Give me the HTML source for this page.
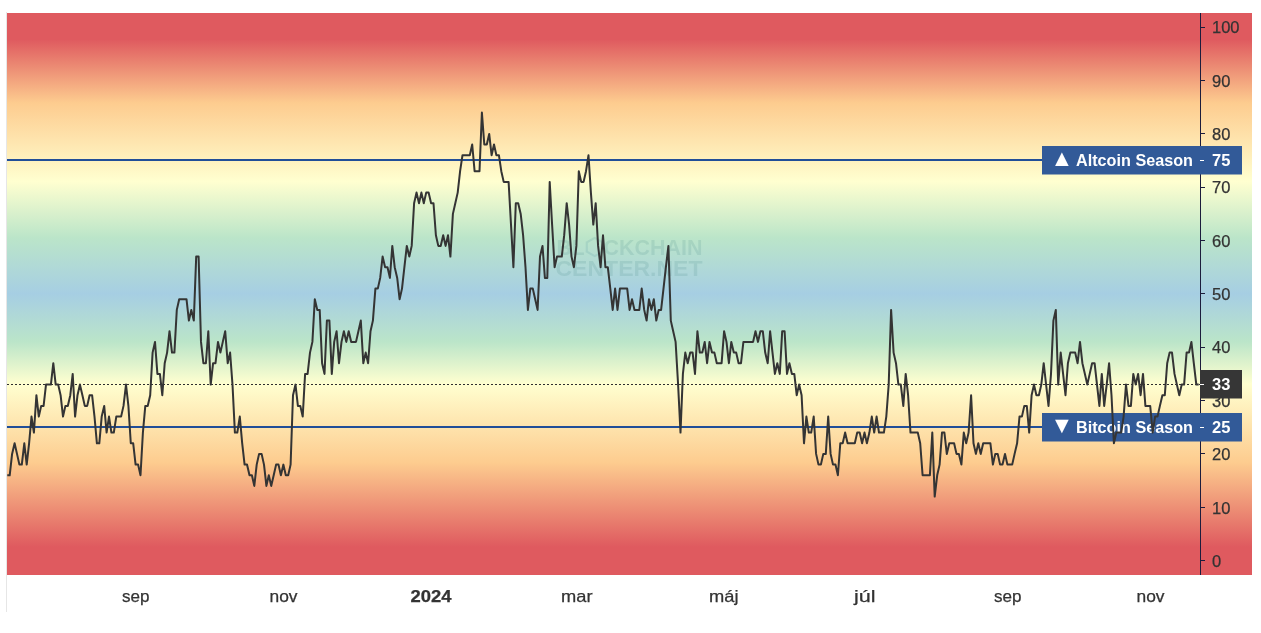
<!DOCTYPE html>
<html lang="hu">
<head>
<meta charset="utf-8">
<title>Altcoin Season Index</title>
<style>
html,body{margin:0;padding:0;background:#fff;}
body{width:1261px;height:633px;overflow:hidden;font-family:"Liberation Sans", "DejaVu Sans", sans-serif;}
svg{display:block;}
text{font-family:"Liberation Sans", "DejaVu Sans", sans-serif;}
.ax{font-size:16.5px;fill:#333;stroke:#333;stroke-width:.25px;}
.b{font-weight:bold;}
.lbl{font-size:16.5px;font-weight:bold;fill:#fff;}
.wm{font-size:21.3px;font-weight:bold;fill:#3f7f7f;fill-opacity:.15;}
</style>
</head>
<body>
<svg width="1261" height="633" viewBox="0 0 1261 633">
<defs>
<linearGradient id="bg" x1="0" y1="0" x2="0" y2="1">
<stop offset="0" stop-color="#df5a5f"/>
<stop offset="0.047" stop-color="#df5a5f"/>
<stop offset="0.16" stop-color="#fdcc8f"/>
<stop offset="0.30" stop-color="#ffffd0"/>
<stop offset="0.40" stop-color="#bbe5c9"/>
<stop offset="0.50" stop-color="#a6cee3"/>
<stop offset="0.585" stop-color="#bbe5c9"/>
<stop offset="0.66" stop-color="#ffffd0"/>
<stop offset="0.80" stop-color="#fdcc8f"/>
<stop offset="0.95" stop-color="#df5a5f"/>
<stop offset="1" stop-color="#df5a5f"/>
</linearGradient>
<clipPath id="pane"><rect x="7" y="13" width="1193" height="562"/></clipPath>
</defs>
<rect x="0" y="0" width="1261" height="633" fill="#fff"/>
<rect x="7" y="13" width="1245" height="562" fill="url(#bg)"/>
<line x1="6.5" y1="12" x2="6.5" y2="612" stroke="#e6e6e6" stroke-width="1"/>
<!-- watermark -->
<g class="wm">
<text x="556.5" y="254.8" textLength="28" lengthAdjust="spacingAndGlyphs">BL</text>
<polygon points="594.7,237.9 602.6,242.4 602.6,251.6 594.7,256.1 586.8,251.6 586.8,242.4" fill="none" stroke="#4a8f9a" stroke-opacity=".16" stroke-width="2.2"/>
<text x="603.5" y="254.8" textLength="99" lengthAdjust="spacingAndGlyphs">CKCHAIN</text>
<text x="555.5" y="275.6" textLength="147" lengthAdjust="spacingAndGlyphs">CENTER.NET</text>
</g>
<!-- price lines -->
<rect x="7" y="159" width="1193" height="2" fill="#214e98"/>
<rect x="7" y="426" width="1193" height="2" fill="#214e98"/>
<line x1="7" y1="384.5" x2="1200" y2="384.5" stroke="#2e2e2e" stroke-width="1" stroke-dasharray="2 2"/>
<!-- price line titles -->
<rect x="1042" y="146" width="158" height="28.5" fill="#325a98"/>
<rect x="1042" y="413" width="158" height="28.5" fill="#325a98"/>
<text x="1050.6" y="166.2" class="lbl" style="font-size:23px">▲</text>
<text x="1076" y="166.3" class="lbl" textLength="117" lengthAdjust="spacingAndGlyphs">Altcoin Season</text>
<text x="1050.6" y="433.2" class="lbl" style="font-size:23px">▼</text>
<text x="1076" y="433.3" class="lbl" textLength="117" lengthAdjust="spacingAndGlyphs">Bitcoin Season</text>
<!-- series -->
<polyline points="7.3,475.3 9.7,475.3 12.1,453.9 14.6,443.3 17.0,453.9 19.4,464.6 21.8,464.6 24.3,443.3 26.7,464.6 29.1,443.3 31.5,416.6 33.9,432.6 36.4,395.2 38.8,416.6 41.2,405.9 43.6,405.9 46.0,384.6 48.5,384.6 50.9,384.6 53.3,363.2 55.7,384.6 58.2,384.6 60.6,395.2 63.0,416.6 65.4,405.9 67.8,405.9 70.3,395.2 72.7,373.9 75.1,416.6 77.5,395.2 79.9,384.6 82.4,395.2 84.8,405.9 87.2,405.9 89.6,395.2 92.1,395.2 94.5,416.6 96.9,443.3 99.3,443.3 101.7,416.6 104.2,405.9 106.6,432.6 109.0,416.6 111.4,432.6 113.8,432.6 116.3,416.6 118.7,416.6 121.1,416.6 123.5,405.9 126.0,384.6 128.4,405.9 130.8,443.3 133.2,443.3 135.6,464.6 138.1,464.6 140.5,475.3 142.9,432.6 145.3,405.9 147.7,405.9 150.2,395.2 152.6,352.6 155.0,341.9 157.4,373.9 159.9,373.9 162.3,395.2 164.7,363.2 167.1,352.6 169.5,331.2 172.0,352.6 174.4,352.6 176.8,309.9 179.2,299.2 181.6,299.2 184.1,299.2 186.5,299.2 188.9,320.6 191.3,309.9 193.8,320.6 196.2,256.6 198.6,256.6 201.0,341.9 203.4,363.2 205.9,363.2 208.3,331.2 210.7,384.6 213.1,363.2 215.5,363.2 218.0,341.9 220.4,352.6 222.8,341.9 225.2,331.2 227.7,363.2 230.1,352.6 232.5,384.6 234.9,432.6 237.3,432.6 239.8,416.6 242.2,443.3 244.6,464.6 247.0,464.6 249.5,475.3 251.9,475.3 254.3,485.9 256.7,464.6 259.1,453.9 261.6,453.9 264.0,464.6 266.4,485.9 268.8,475.3 271.2,485.9 273.7,475.3 276.1,464.6 278.5,464.6 280.9,475.3 283.4,464.6 285.8,475.3 288.2,475.3 290.6,464.6 293.0,395.2 295.5,384.6 297.9,405.9 300.3,405.9 302.7,416.6 305.1,373.9 307.6,373.9 310.0,352.6 312.4,341.9 314.8,299.2 317.3,309.9 319.7,309.9 322.1,363.2 324.5,373.9 326.9,320.6 329.4,320.6 331.8,373.9 334.2,341.9 336.6,331.2 339.0,363.2 341.5,341.9 343.9,331.2 346.3,341.9 348.7,331.2 351.2,341.9 353.6,341.9 356.0,341.9 358.4,331.2 360.8,320.6 363.3,363.2 365.7,352.6 368.1,363.2 370.5,331.2 372.9,320.6 375.4,288.6 377.8,288.6 380.2,277.9 382.6,256.6 385.1,267.2 387.5,267.2 389.9,277.9 392.3,245.9 394.7,267.2 397.2,277.9 399.6,299.2 402.0,288.6 404.4,267.2 406.8,245.9 409.3,256.6 411.7,245.9 414.1,203.2 416.5,192.6 419.0,203.2 421.4,192.6 423.8,203.2 426.2,192.6 428.6,192.6 431.1,203.2 433.5,203.2 435.9,235.2 438.3,245.9 440.7,245.9 443.2,235.2 445.6,245.9 448.0,235.2 450.4,256.6 452.9,213.9 455.3,203.2 457.7,192.6 460.1,171.2 462.5,155.2 465.0,155.2 467.4,155.2 469.8,155.2 472.2,144.5 474.6,171.2 477.1,171.2 479.5,171.2 481.9,112.5 484.3,144.5 486.8,144.5 489.2,133.9 491.6,155.2 494.0,144.5 496.4,155.2 498.9,155.2 501.3,171.2 503.7,181.9 506.1,181.9 508.6,181.9 511.0,224.6 513.4,267.2 515.8,203.2 518.2,203.2 520.7,213.9 523.1,235.2 525.5,267.2 527.9,309.9 530.3,288.6 532.8,288.6 535.2,299.2 537.6,309.9 540.0,256.6 542.5,245.9 544.9,277.9 547.3,277.9 549.7,181.9 552.1,224.6 554.6,267.2 557.0,256.6 559.4,256.6 561.8,256.6 564.2,235.2 566.7,203.2 569.1,224.6 571.5,256.6 573.9,267.2 576.4,245.9 578.8,171.2 581.2,181.9 583.6,181.9 586.0,171.2 588.5,155.2 590.9,192.6 593.3,224.6 595.7,203.2 598.1,245.9 600.6,267.2 603.0,235.2 605.4,267.2 607.8,267.2 610.3,288.6 612.7,309.9 615.1,288.6 617.5,309.9 619.9,288.6 622.4,288.6 624.8,288.6 627.2,288.6 629.6,309.9 632.0,299.2 634.5,309.9 636.9,309.9 639.3,309.9 641.7,288.6 644.2,309.9 646.6,320.6 649.0,299.2 651.4,309.9 653.8,299.2 656.3,320.6 658.7,309.9 661.1,309.9 663.5,288.6 665.9,267.2 668.4,245.9 670.8,320.6 673.2,331.2 675.6,341.9 678.1,384.6 680.5,432.6 682.9,373.9 685.3,352.6 687.7,363.2 690.2,352.6 692.6,352.6 695.0,373.9 697.4,331.2 699.8,352.6 702.3,352.6 704.7,341.9 707.1,363.2 709.5,341.9 712.0,352.6 714.4,352.6 716.8,363.2 719.2,363.2 721.6,363.2 724.1,331.2 726.5,341.9 728.9,363.2 731.3,341.9 733.8,352.6 736.2,352.6 738.6,363.2 741.0,363.2 743.4,341.9 745.9,341.9 748.3,341.9 750.7,341.9 753.1,341.9 755.5,331.2 758.0,341.9 760.4,331.2 762.8,331.2 765.2,352.6 767.7,363.2 770.1,331.2 772.5,352.6 774.9,373.9 777.3,363.2 779.8,373.9 782.2,331.2 784.6,331.2 787.0,373.9 789.4,363.2 791.9,373.9 794.3,373.9 796.7,395.2 799.1,384.6 801.6,395.2 804.0,443.3 806.4,416.6 808.8,432.6 811.2,432.6 813.7,416.6 816.1,453.9 818.5,464.6 820.9,464.6 823.3,453.9 825.8,453.9 828.2,416.6 830.6,453.9 833.0,464.6 835.5,464.6 837.9,475.3 840.3,443.3 842.7,443.3 845.1,432.6 847.6,443.3 850.0,443.3 852.4,443.3 854.8,443.3 857.2,432.6 859.7,432.6 862.1,443.3 864.5,432.6 866.9,443.3 869.4,432.6 871.8,416.6 874.2,432.6 876.6,416.6 879.0,432.6 881.5,432.6 883.9,432.6 886.3,416.6 888.7,384.6 891.1,309.9 893.6,352.6 896.0,363.2 898.4,384.6 900.8,384.6 903.3,405.9 905.7,373.9 908.1,395.2 910.5,432.6 912.9,432.6 915.4,432.6 917.8,432.6 920.2,443.3 922.6,475.3 925.0,475.3 927.5,475.3 929.9,475.3 932.3,432.6 934.7,496.6 937.2,475.3 939.6,464.6 942.0,432.6 944.4,432.6 946.8,453.9 949.3,443.3 951.7,443.3 954.1,443.3 956.5,453.9 958.9,453.9 961.4,464.6 963.8,432.6 966.2,443.3 968.6,432.6 971.1,395.2 973.5,443.3 975.9,453.9 978.3,443.3 980.7,453.9 983.2,443.3 985.6,443.3 988.0,443.3 990.4,443.3 992.9,464.6 995.3,453.9 997.7,453.9 1000.1,464.6 1002.5,464.6 1005.0,453.9 1007.4,464.6 1009.8,464.6 1012.2,464.6 1014.6,453.9 1017.1,443.3 1019.5,416.6 1021.9,416.6 1024.3,405.9 1026.8,405.9 1029.2,432.6 1031.6,395.2 1034.0,384.6 1036.4,395.2 1038.9,395.2 1041.3,384.6 1043.7,363.2 1046.1,384.6 1048.5,405.9 1051.0,373.9 1053.4,320.6 1055.8,309.9 1058.2,384.6 1060.7,352.6 1063.1,373.9 1065.5,395.2 1067.9,363.2 1070.3,352.6 1072.8,352.6 1075.2,352.6 1077.6,363.2 1080.0,341.9 1082.4,363.2 1084.9,373.9 1087.3,384.6 1089.7,373.9 1092.1,363.2 1094.6,363.2 1097.0,384.6 1099.4,405.9 1101.8,373.9 1104.2,405.9 1106.7,384.6 1109.1,363.2 1111.5,395.2 1113.9,443.3 1116.3,432.6 1118.8,432.6 1121.2,432.6 1123.6,416.6 1126.0,384.6 1128.5,405.9 1130.9,405.9 1133.3,373.9 1135.7,384.6 1138.1,373.9 1140.6,395.2 1143.0,373.9 1145.4,405.9 1147.8,405.9 1150.2,405.9 1152.7,432.6 1155.1,416.6 1157.5,416.6 1159.9,405.9 1162.4,395.2 1164.8,395.2 1167.2,363.2 1169.6,352.6 1172.0,352.6 1174.5,373.9 1176.9,384.6 1179.3,395.2 1181.7,384.6 1184.1,384.6 1186.6,352.6 1189.0,352.6 1191.4,341.9 1193.8,363.2 1196.3,384.6 1198.7,384.6" fill="none" stroke="#343434" stroke-width="2" stroke-linejoin="round" stroke-linecap="butt" clip-path="url(#pane)"/>
<!-- price axis -->
<rect x="1200" y="13" width="1" height="562" fill="#1c1c3c"/>
<rect x="1201" y="560" width="4" height="1" fill="#1c1c3c"/><text x="1212" y="566.8" class="ax">0</text>
<rect x="1201" y="507" width="4" height="1" fill="#1c1c3c"/><text x="1212" y="513.5" class="ax">10</text>
<rect x="1201" y="453" width="4" height="1" fill="#1c1c3c"/><text x="1212" y="460.1" class="ax">20</text>
<rect x="1201" y="400" width="4" height="1" fill="#1c1c3c"/><text x="1212" y="406.8" class="ax">30</text>
<rect x="1201" y="347" width="4" height="1" fill="#1c1c3c"/><text x="1212" y="353.4" class="ax">40</text>
<rect x="1201" y="293" width="4" height="1" fill="#1c1c3c"/><text x="1212" y="300.1" class="ax">50</text>
<rect x="1201" y="240" width="4" height="1" fill="#1c1c3c"/><text x="1212" y="246.8" class="ax">60</text>
<rect x="1201" y="187" width="4" height="1" fill="#1c1c3c"/><text x="1212" y="193.4" class="ax">70</text>
<rect x="1201" y="133" width="4" height="1" fill="#1c1c3c"/><text x="1212" y="140.1" class="ax">80</text>
<rect x="1201" y="80" width="4" height="1" fill="#1c1c3c"/><text x="1212" y="86.7" class="ax">90</text>
<rect x="1201" y="27" width="4" height="1" fill="#1c1c3c"/><text x="1212" y="33.4" class="ax">100</text>

<rect x="1200" y="146" width="42" height="28.5" fill="#325a98"/>
<rect x="1200" y="413" width="42" height="28.5" fill="#325a98"/>
<rect x="1200" y="370" width="42" height="28.5" fill="#363636"/>
<rect x="1200" y="160" width="4" height="1" fill="#fff"/>
<rect x="1200" y="427" width="4" height="1" fill="#fff"/>
<rect x="1200" y="384" width="4" height="1" fill="#fff"/>
<text x="1212" y="166.3" class="lbl">75</text>
<text x="1212" y="433.3" class="lbl">25</text>
<text x="1212" y="390.3" class="lbl">33</text>
<!-- time axis -->
<text x="122.1" y="601.6" textLength="27.5" lengthAdjust="spacingAndGlyphs" class="ax">sep</text>
<text x="269.5" y="601.6" textLength="28" lengthAdjust="spacingAndGlyphs" class="ax">nov</text>
<text x="410.6" y="601.6" textLength="41" lengthAdjust="spacingAndGlyphs" class="ax b">2024</text>
<text x="561.0" y="601.6" textLength="31.5" lengthAdjust="spacingAndGlyphs" class="ax">mar</text>
<text x="709.0" y="601.6" textLength="29.5" lengthAdjust="spacingAndGlyphs" class="ax">máj</text>
<text x="854.0" y="601.6" textLength="21.5" lengthAdjust="spacingAndGlyphs" class="ax">júl</text>
<text x="994.0" y="601.6" textLength="27.5" lengthAdjust="spacingAndGlyphs" class="ax">sep</text>
<text x="1136.5" y="601.6" textLength="28" lengthAdjust="spacingAndGlyphs" class="ax">nov</text>

</svg>
</body>
</html>
